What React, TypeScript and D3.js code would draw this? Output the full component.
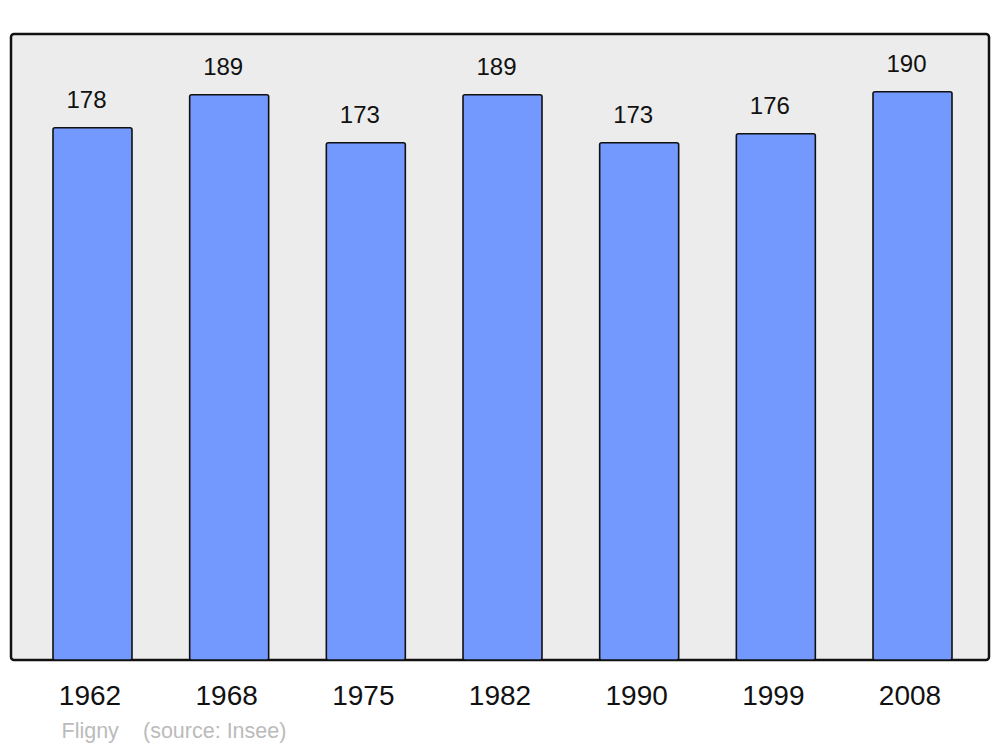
import React from "react";
import * as d3 from "d3";

const years = ["1962", "1968", "1975", "1982", "1990", "1999", "2008"];
const population = [178, 189, 173, 189, 173, 176, 190];
const commune = "Fligny";
const source = "(source: Insee)";

export default function App() {
  const W = 1000, H = 747;
  const panel = { x: 11, y: 34, w: 978, h: 626 };
  const x = d3.scaleBand<string>().domain(years).range([13.5, 991.5]).paddingInner(0.422).paddingOuter(0.289);
  const y = d3.scaleLinear().domain([0, 209.3]).range([661, 34]);
  const font = "'Liberation Sans', Arial, sans-serif";
  return (
    <svg width={W} height={H} style={{ position: "absolute", left: 0, top: 0 }} fontFamily={font}>
      <rect x={0} y={0} width={W} height={H} fill="#ffffff" />
      <rect x={panel.x} y={panel.y} width={panel.w} height={panel.h} rx={3} fill="#ececec" stroke="#111" strokeWidth={2.5} />
      {years.map((yr, i) => {
        const bx = x(yr)!;
        const bw = x.bandwidth();
        const top = y(population[i]);
        return (
          <g key={yr}>
            <rect x={bx} y={top} width={bw} height={660 - top} rx={2} fill="#7399ff" stroke="#111" strokeWidth={1.6} />
            <text x={bx + bw / 2 - 6} y={top - 20} textAnchor="middle" fontSize={24} fill="#111">{population[i]}</text>
            <text x={bx + bw / 2 - 2.5} y={705} textAnchor="middle" fontSize={28} fill="#111">{yr}</text>
          </g>
        );
      })}
      <text x={61.5} y={738} fontSize={21.5} fill="#bbbbbb">{commune}</text>
      <text x={143} y={738} fontSize={21.5} fill="#bbbbbb">{source}</text>
    </svg>
  );
}
